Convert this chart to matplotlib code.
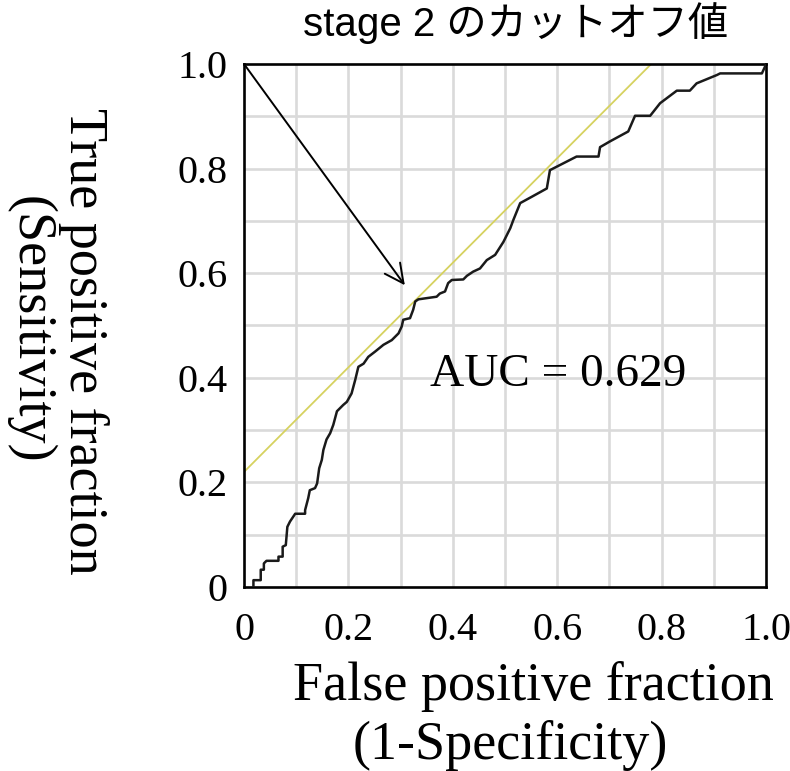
import matplotlib
matplotlib.use("Agg")
import matplotlib.pyplot as plt

# ROC curve (staircase vertices)
fpr = [0.018, 0.018, 0.032, 0.032, 0.038, 0.038, 0.043, 0.066, 0.066, 0.074, 0.074,
       0.080, 0.083, 0.088, 0.098, 0.117, 0.117, 0.123, 0.126, 0.136, 0.140, 0.144,
       0.149, 0.152, 0.158, 0.165, 0.171, 0.178, 0.190, 0.197, 0.206, 0.213, 0.219,
       0.229, 0.238, 0.251, 0.267, 0.283, 0.296, 0.302, 0.305, 0.318, 0.324, 0.328,
       0.334, 0.369, 0.375, 0.385, 0.391, 0.398, 0.420, 0.427, 0.439, 0.452, 0.465,
       0.481, 0.497, 0.510, 0.516, 0.529, 0.551, 0.580, 0.586, 0.637, 0.679, 0.682,
       0.701, 0.736, 0.749, 0.778, 0.797, 0.829, 0.854, 0.867, 0.906, 0.912, 0.992,
       0.998, 1.0]
tpr = [0.0, 0.013, 0.013, 0.033, 0.033, 0.045, 0.050, 0.050, 0.058, 0.058, 0.077,
       0.080, 0.115, 0.125, 0.140, 0.140, 0.147, 0.170, 0.185, 0.189, 0.198, 0.227,
       0.243, 0.262, 0.282, 0.294, 0.310, 0.336, 0.348, 0.354, 0.370, 0.396, 0.421,
       0.427, 0.440, 0.450, 0.463, 0.472, 0.485, 0.498, 0.511, 0.514, 0.530, 0.546,
       0.550, 0.555, 0.561, 0.565, 0.581, 0.587, 0.588, 0.595, 0.603, 0.609, 0.625,
       0.635, 0.660, 0.686, 0.702, 0.734, 0.746, 0.762, 0.797, 0.823, 0.823, 0.841,
       0.852, 0.871, 0.901, 0.901, 0.925, 0.949, 0.949, 0.963, 0.979, 0.982, 0.982,
       0.995, 1.0]

tangent_intercept = 0.22
arrow_start = (0.0, 1.0)
arrow_end = (0.308, 0.577)
auc = 0.629
ticks = [0, 0.2, 0.4, 0.6, 0.8, 1.0]
tick_labels = ["0", "0.2", "0.4", "0.6", "0.8", "1.0"]

serif = "Liberation Serif"

fig = plt.figure(figsize=(7.9, 7.71), dpi=100)
ax = fig.add_axes([0.3089, 0.2387, 0.6608, 0.6783])

ax.set_xlim(0, 1)
ax.set_ylim(0, 1)
for v in [i / 10 for i in range(1, 10)]:
    ax.axvline(v, color="#dadada", lw=1.9, zorder=0)
    ax.axhline(v, color="#dadada", lw=1.9, zorder=0)

tx = [0, 1 - tangent_intercept]
ty = [tangent_intercept, 1]
ax.plot(tx, ty, color="#d6d260", lw=1.3, zorder=2)
ax.plot(fpr, tpr, color="#1a1a1a", lw=1.8, zorder=3)

ax.annotate("", xy=arrow_end, xytext=arrow_start,
            arrowprops=dict(arrowstyle="->", lw=1.4, color="black",
                            mutation_scale=34, shrinkA=0, shrinkB=0),
            zorder=4)

ax.text(0.602, 0.405, f"AUC = {auc}", fontsize=34, family=serif,
        ha="center", va="center")

ax.set_xticks(ticks)
ax.set_xticklabels(tick_labels)
ax.set_yticks(ticks)
ax.set_yticklabels(tick_labels)
ax.tick_params(length=0, labelsize=29)
ax.tick_params(axis="x", pad=18)
ax.tick_params(axis="y", pad=12)
for lab in ax.get_xticklabels() + ax.get_yticklabels():
    lab.set_family(serif)

for s in ax.spines.values():
    s.set_linewidth(1.9)
    s.set_color("black")

fig.text(0.652, 0.970, "stage 2 のカットオフ値", fontsize=29,
         family=["Liberation Sans", "Noto Sans CJK JP"], ha="center", va="center")

fig.text(0.675, 0.110, "False positive fraction", fontsize=39, family=serif,
         ha="center", va="center")
fig.text(0.646, 0.033, "(1-Specificity)", fontsize=39, family=serif,
         ha="center", va="center")

fig.text(0.106, 0.557, "True positive fraction", fontsize=39, family=serif,
         ha="center", va="center", rotation=-90)
fig.text(0.038, 0.572, "(Sensitivity)", fontsize=39, family=serif,
         ha="center", va="center", rotation=-90)

fig.savefig("out.png", dpi=100)
